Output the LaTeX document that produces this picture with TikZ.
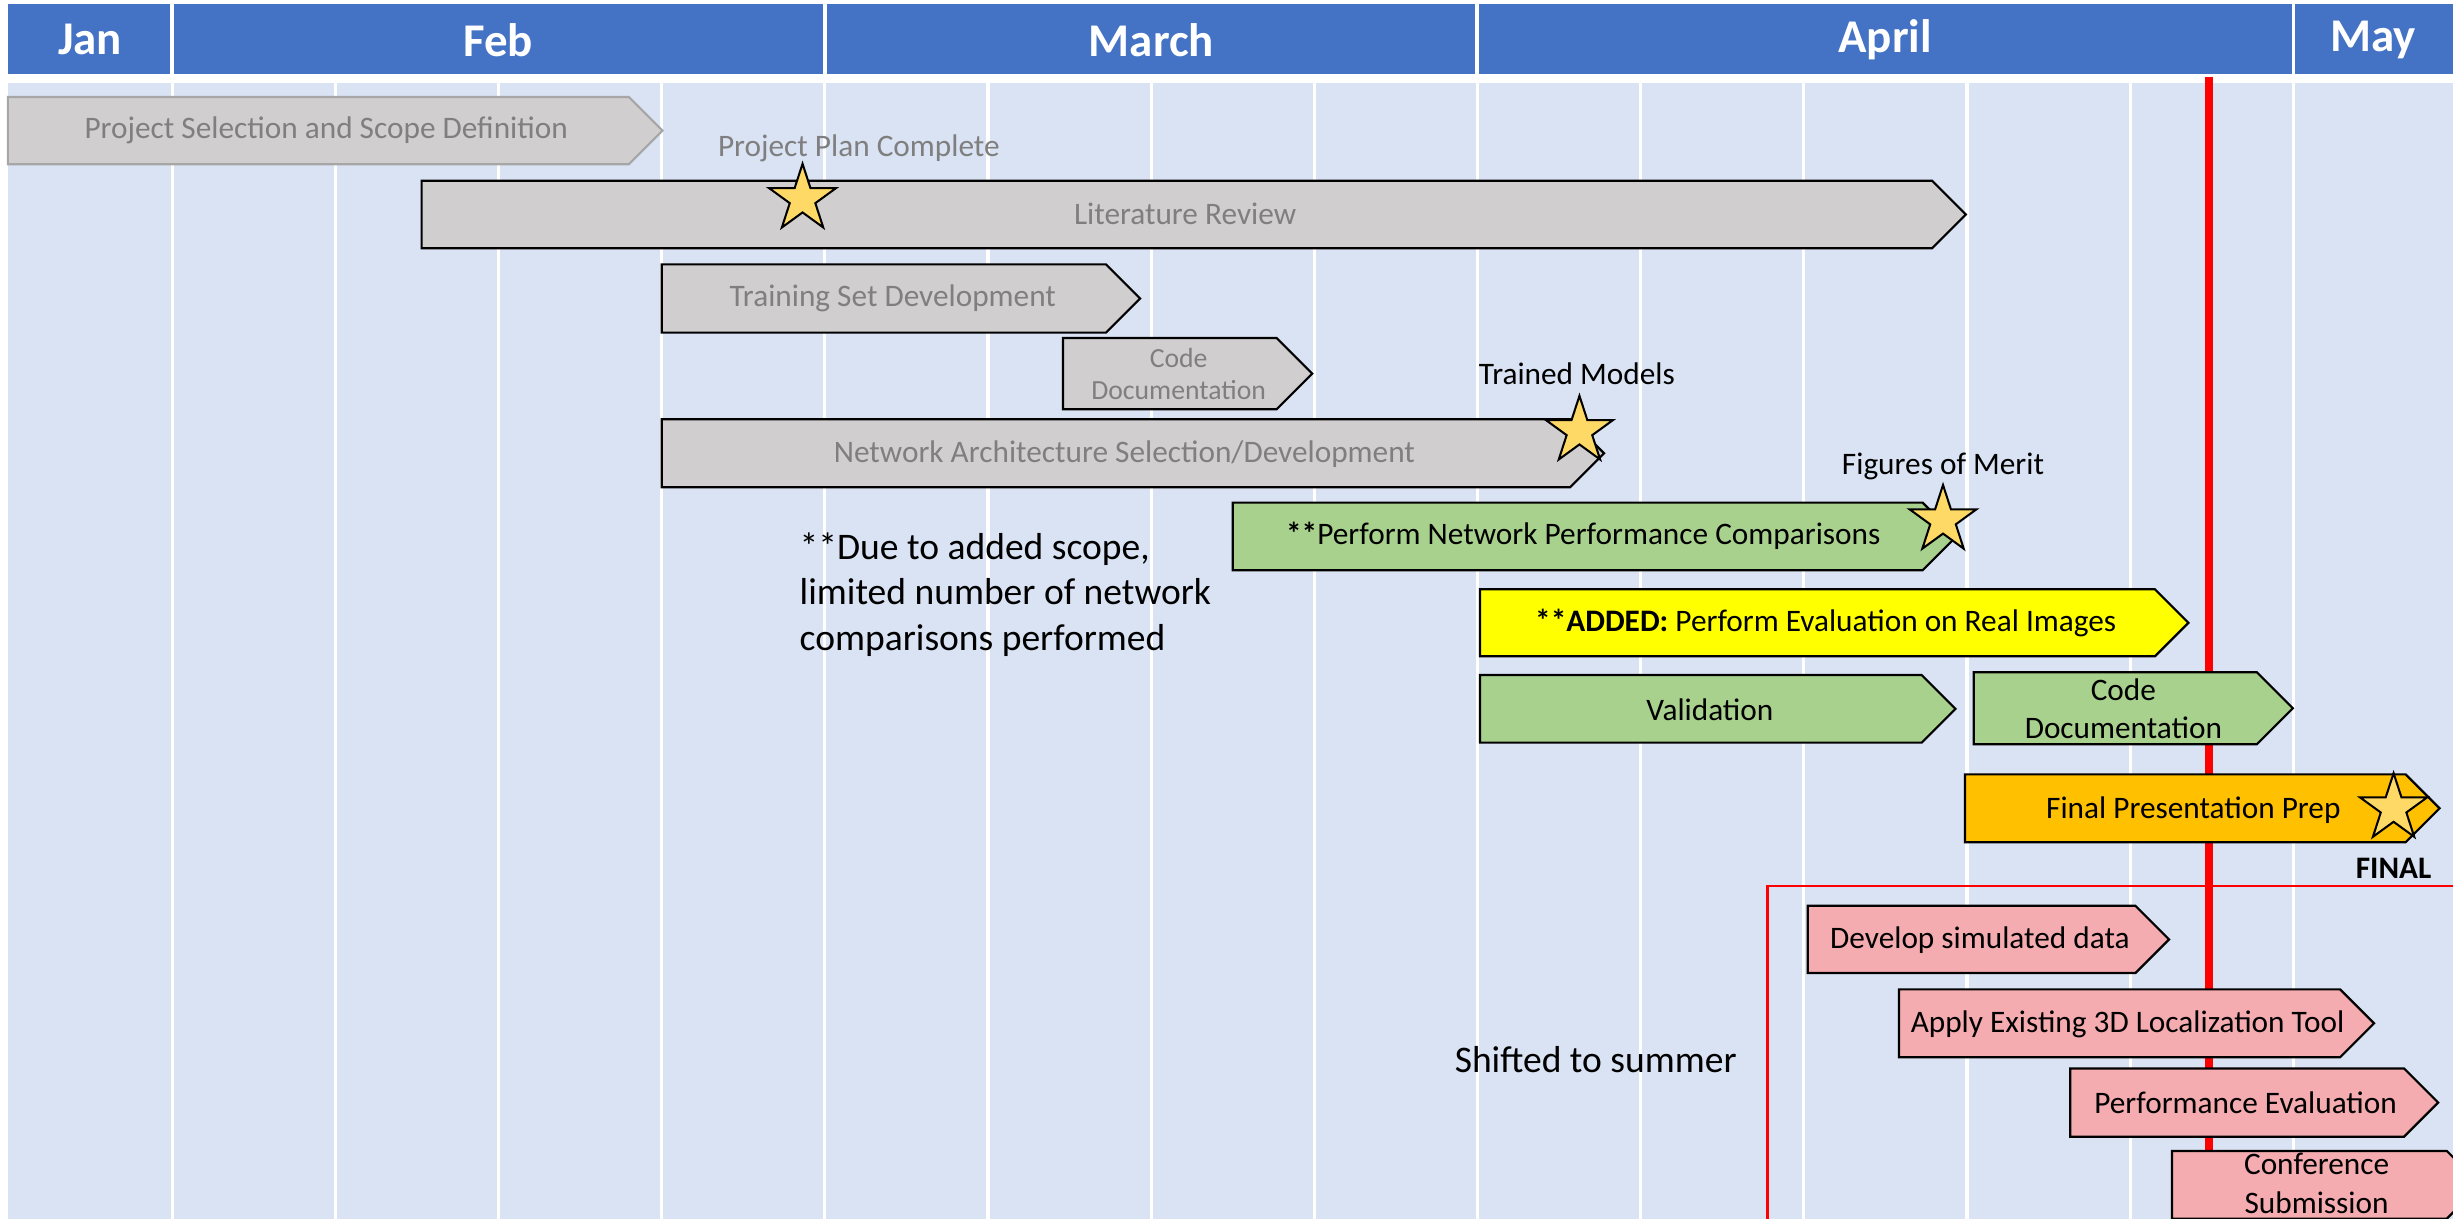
\documentclass[tikz,border=0pt]{standalone}
\usepackage{fontspec}
\setmainfont{Carlito}
\usetikzlibrary{shapes.geometric}
\definecolor{hdrblue}{HTML}{4472C4}
\definecolor{bodyblue}{HTML}{DAE3F3}
\definecolor{taskgray}{HTML}{D0CECE}
\definecolor{labelgray}{HTML}{7F7F7F}
\definecolor{edgegray}{HTML}{A6A6A6}
\definecolor{taskgreen}{HTML}{A9D18E}
\definecolor{taskyellow}{HTML}{FFFF00}
\definecolor{taskorange}{HTML}{FFC000}
\definecolor{taskpink}{HTML}{F4ACB0}
\definecolor{stargold}{HTML}{FFD966}
\def\taskbar[#1](#2:#3:#4:#5){\draw[#1] (#2,#4) -- (#3,#4) -- ({#3+(#5-#4)/2},{(#4+#5)/2}) -- (#3,#5) -- (#2,#5) -- cycle;}
\tikzset{
  month/.style={text=white, inner sep=0pt, font=\fontsize{30}{36}\selectfont\bfseries},
  monthline/.style={white, line width=2.5pt},
  weekline/.style={white, line width=2pt},
  todayline/.style={red, line width=4.6pt},
  barline/.style={draw=black, line width=1.4pt},
  bartext/.style={inner sep=0pt, align=center, font=\fontsize{20}{24.5}\selectfont},
  notetext/.style={inner sep=0pt, align=left, font=\fontsize{24}{29}\selectfont},
  milestone/.style={star, star points=5, star point ratio=2.618, minimum size=45pt, inner sep=0pt, draw=black, line width=1.3pt, fill=stargold}
}
\begin{document}
\begin{tikzpicture}[x=1pt, y=-1pt]
		%%%%% BACKGROUND %%%%%
		\useasboundingbox (0,0) rectangle (1568,779);
		\clip (0,0) rectangle (1568,779);
		\fill[white] (0,0) rectangle (1568,779);
		\fill[hdrblue] (5,2.5) rectangle (1568,47);
		\fill[bodyblue] (5,52.8) rectangle (1568,779);
		
		\draw[monthline] (110,2.5) -- (110,47);
		\draw[monthline] (527.2,2.5) -- (527.2,47);
		\draw[monthline] (944.4,2.5) -- (944.4,47);
		\draw[monthline] (1466,2.5) -- (1466,47);
		
		\node[month] (jan) at (57.5,25.5) {Jan};
		\node[month] (feb) at (318.5,25.5) {Feb};
		\node[month] (march) at (736,25.5) {March};
		\node[month] (april) at (1205,25.5) {April};
		\node[month] (may) at (1517,25.5) {May};
		
		%%%%% WEEKS %%%%%
		\draw[weekline] (110,52.8) -- (110,779);
		\draw[weekline] (214.3,52.8) -- (214.3,779);
		\draw[weekline] (318.6,52.8) -- (318.6,779);
		\draw[weekline] (422.9,52.8) -- (422.9,779);
		\draw[weekline] (527.2,52.8) -- (527.2,779);
		\draw[weekline] (631.5,52.8) -- (631.5,779);
		\draw[weekline] (735.8,52.8) -- (735.8,779);
		\draw[weekline] (840.1,52.8) -- (840.1,779);
		\draw[weekline] (944.4,52.8) -- (944.4,779);
		\draw[weekline] (1048.7,52.8) -- (1048.7,779);
		\draw[weekline] (1153,52.8) -- (1153,779);
		\draw[weekline] (1257.3,52.8) -- (1257.3,779);
		\draw[weekline] (1361.6,52.8) -- (1361.6,779);
		\draw[weekline] (1466,52.8) -- (1466,779);
		
		\draw[todayline] (1412,49) -- (1412,779);
		\draw[red, line width=1.7pt] (1129.6,566.3) rectangle (1600,800);
		
		%%%%% TASKS %%%%%
		\taskbar[fill=taskgray, draw=edgegray, line width=1.3pt](5:402:62:105)
		\taskbar[fill=taskgray, barline](269.5:1235:115.5:158.7)
		\taskbar[fill=taskgray, barline](423:707:169:212.6)
		\taskbar[fill=taskgray, barline](679.5:816:216:261.6)
		\taskbar[fill=taskgray, barline](423:1003.6:268:311.5)
		\taskbar[fill=taskgreen, barline](788:1229:321.3:364.5)
		\taskbar[fill=taskyellow, barline](946:1377.5:376.7:419.5)
		\taskbar[fill=taskgreen, barline](946:1228.4:431.5:474.7)
		\taskbar[fill=taskgreen, barline](1261.6:1442.6:429.7:475.7)
		\taskbar[fill=taskorange, barline](1256:1537.7:495:538.4)
		\taskbar[fill=taskpink, barline](1155.5:1365:579:622)
		\taskbar[fill=taskpink, barline](1213.8:1495.8:632.4:675.8)
		\taskbar[fill=taskpink, barline](1323.3:1536.7:683:726.6)
		\taskbar[fill=taskpink, barline](1388.4:1564:735.7:779)
		
		\node[bartext, text=labelgray] (scope) at (208.5,83.6) {Project Selection and Scope Definition};
		\node[bartext, text=labelgray] (litreview) at (757.5,137) {Literature Review};
		\node[bartext, text=labelgray] (trainset) at (570.7,190.8) {Training Set Development};
		\node[bartext, text=labelgray, font=\fontsize{17.7}{20}\selectfont] (codedoca) at (753.4,239) {Code\\Documentation};
		\node[bartext, text=labelgray] (netarch) at (718.7,290.4) {Network Architecture Selection/Development};
		\node[bartext] (perfcomp) at (1012,342.8) {\textbf{**}Perform Network Performance Comparisons};
		\node[bartext] (realimg) at (1167,398.4) {\textbf{**ADDED:} Perform Evaluation on Real Images};
		\node[bartext] (valid) at (1093,453.4) {Validation};
		\node[bartext] (codedocb) at (1357.3,453) {Code\\Documentation};
		\node[bartext] (finalprep) at (1402,517.8) {Final Presentation Prep};
		\node[bartext] (simdata) at (1265.6,601) {Develop simulated data};
		\node[bartext] (loctool) at (1360,654.6) {Apply Existing 3D Localization Tool};
		\node[bartext] (perfeval) at (1435.4,705) {Performance Evaluation};
		\node[bartext] (confsub) at (1480.8,756.5) {Conference\\Submission};
		
		%%%%% MILESTONES %%%%%
		\node[milestone] (planstar) at (513,127.2) {};
		\node[milestone] (modelstar) at (1009.6,275.5) {};
		\node[milestone] (meritstar) at (1242,332.5) {};
		\node[milestone] (finalstar) at (1530,516.7) {};
		
		\node[bartext, text=labelgray] (plan) at (549,94.5) {Project Plan Complete};
		\node[bartext] (models) at (1008,239) {Trained Models};
		\node[bartext] (merit) at (1242,298.3) {Figures of Merit};
		\node[bartext, font=\fontsize{20}{24}\selectfont\bfseries] (final) at (1530,555) {FINAL};
		
		\node[notetext, anchor=west] (note) at (511,380) {**Due to added scope,\\limited number of network\\comparisons performed};
		\node[notetext] (summer) at (1020,677.5) {Shifted to summer};
		
		%%%%% END %%%%%
	\end{tikzpicture}
\end{document}
